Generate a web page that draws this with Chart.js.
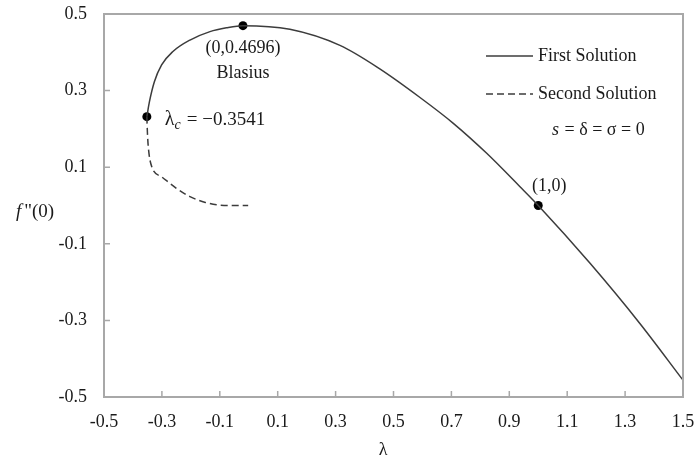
<!DOCTYPE html>
<html>
<head>
<meta charset="utf-8">
<script src="https://cdn.jsdelivr.net/npm/chart.js@4.4.1/dist/chart.umd.min.js"></script>
<style>
html,body{margin:0;padding:0;background:#fff;}
#wrap{width:699px;height:465px;position:relative;}
</style>
</head>
<body>
<div id="wrap"><canvas id="c" width="699" height="465"></canvas></div>
<script>
// ---- data ----
const xTicks = [-0.5, -0.3, -0.1, 0.1, 0.3, 0.5, 0.7, 0.9, 1.1, 1.3, 1.5];
const xTickLabels = ['-0.5', '-0.3', '-0.1', '0.1', '0.3', '0.5', '0.7', '0.9', '1.1', '1.3', '1.5'];
const yTicks = [-0.5, -0.3, -0.1, 0.1, 0.3, 0.5];
const yTickLabels = ['-0.5', '-0.3', '-0.1', '0.1', '0.3', '0.5'];

const firstLambda = [-0.352, -0.343, -0.326, -0.301, -0.262, -0.203, -0.134, -0.077, -0.02, 0.142, 0.315, 0.45, 0.5915, 0.7066, 0.822, 0.937, 1.0, 1.179, 1.351, 1.5];
const firstF      = [0.232, 0.271, 0.323, 0.367, 0.402, 0.432, 0.454, 0.464, 0.4696, 0.460, 0.418, 0.358, 0.282, 0.2146, 0.1363, 0.049, 0.0, -0.151, -0.308, -0.456];

const secondLambda = [-0.352, -0.350, -0.347, -0.335, -0.301, -0.250, -0.203, -0.150, -0.111, -0.060, -0.002];
const secondF      = [0.232, 0.190, 0.153, 0.101, 0.075, 0.045, 0.023, 0.008, 0.002, 0.0, 0.0];

const markLambda = [-0.352, -0.02, 1.0];
const markF      = [0.232, 0.4696, 0.0];

const seriesNames = ['First Solution', 'Second Solution'];

// ---- build ----
const toPts = (xs, ys) => xs.map((x, i) => ({x: x, y: ys[i]}));
const FONT = '"Liberation Serif", "Times New Roman", serif';
const TXT = '#1a1a1a';
const AXIS = '#a8a8a8';
const LINE = '#3c3c3c';

const deco = {
  id: 'deco',
  afterDatasetsDraw(chart) {
    const ctx = chart.ctx, a = chart.chartArea;
    const xs = chart.scales.x, ys = chart.scales.y;
    ctx.save();
    // box
    ctx.strokeStyle = AXIS; ctx.lineWidth = 2;
    ctx.strokeRect(a.left, a.top, a.right - a.left, a.bottom - a.top);
    // inside tick marks
    ctx.lineWidth = 1.5;
    ctx.beginPath();
    xTicks.forEach(v => {
      const p = xs.getPixelForValue(v);
      if (p > a.left + 2 && p < a.right - 2) { ctx.moveTo(p, a.bottom); ctx.lineTo(p, a.bottom - 6); }
    });
    yTicks.forEach(v => {
      const p = ys.getPixelForValue(v);
      if (p > a.top + 2 && p < a.bottom - 2) { ctx.moveTo(a.left, p); ctx.lineTo(a.left + 6, p); }
    });
    ctx.stroke();

    ctx.fillStyle = TXT;
    ctx.textBaseline = 'middle';
    // annotation near Blasius point
    const bx = xs.getPixelForValue(markLambda[1]), by = ys.getPixelForValue(markF[1]);
    ctx.font = '18px ' + FONT; ctx.textAlign = 'center';
    ctx.fillText('(0,0.4696)', bx, by + 23);
    ctx.fillText('Blasius', bx, by + 48);
    // critical point label
    const cx = xs.getPixelForValue(markLambda[0]), cy = ys.getPixelForValue(markF[0]);
    ctx.textAlign = 'left';
    ctx.font = '20px ' + FONT;
    let x0 = cx + 18;
    ctx.fillText('λ', x0, cy + 3);
    x0 += ctx.measureText('λ').width;
    ctx.font = 'italic 14px ' + FONT;
    ctx.fillText('c', x0, cy + 9);
    x0 += ctx.measureText('c').width + 6;
    ctx.font = '19px ' + FONT;
    ctx.fillText('= −0.3541', x0, cy + 3);
    // (1,0)
    const px = xs.getPixelForValue(markLambda[2]), py = ys.getPixelForValue(markF[2]);
    ctx.font = '18px ' + FONT; ctx.textAlign = 'center';
    ctx.fillText('(1,0)', px + 11, py - 19);
    // legend
    ctx.textAlign = 'left';
    ctx.strokeStyle = LINE; ctx.lineWidth = 1.5;
    ctx.beginPath(); ctx.moveTo(486, 56); ctx.lineTo(533, 56); ctx.stroke();
    ctx.setLineDash([7, 4]);
    ctx.beginPath(); ctx.moveTo(486, 94); ctx.lineTo(533, 94); ctx.stroke();
    ctx.setLineDash([]);
    ctx.font = '18px ' + FONT;
    ctx.fillText(seriesNames[0], 538, 56);
    ctx.fillText(seriesNames[1], 538, 94);
    ctx.font = 'italic 18px ' + FONT;
    ctx.fillText('s', 552, 130);
    ctx.font = '18px ' + FONT;
    ctx.fillText(' = δ = σ = 0', 560, 130);
    // axis titles
    ctx.font = 'italic 19px ' + FONT;
    ctx.fillText('f', 16, 212);
    const fw = ctx.measureText('f').width;
    ctx.font = '19px ' + FONT;
    ctx.fillText('"(0)', 16 + fw + 3, 212);
    ctx.textAlign = 'center';
    ctx.font = '18px ' + FONT;
    ctx.fillText('λ', 383, 450);
    ctx.restore();
  }
};

new Chart(document.getElementById('c'), {
  type: 'scatter',
  data: {
    datasets: [
      { label: seriesNames[0], data: toPts(firstLambda, firstF), showLine: true, borderColor: LINE, borderWidth: 1.5, pointRadius: 0, cubicInterpolationMode: 'monotone', fill: false },
      { label: seriesNames[1], data: toPts(secondLambda, secondF), showLine: true, borderColor: LINE, borderWidth: 1.5, borderDash: [7, 4], pointRadius: 0, cubicInterpolationMode: 'monotone', fill: false },
      { label: 'marks', data: toPts(markLambda, markF), showLine: false, pointRadius: 4.5, pointBackgroundColor: '#000', pointBorderColor: '#000', pointBorderWidth: 0 }
    ]
  },
  options: {
    responsive: false,
    animation: false,
    layout: { padding: { top: 14, right: 16, left: 0, bottom: 0 } },
    plugins: { legend: { display: false }, tooltip: { enabled: false } },
    scales: {
      x: {
        type: 'linear', min: -0.5, max: 1.5,
        afterBuildTicks: s => { s.ticks = xTicks.map(v => ({value: v})); },
        afterFit: s => { s.height = 68; s.paddingLeft = 0; s.paddingRight = 0; },
        grid: { display: false, drawTicks: false },
        border: { display: false },
        ticks: { padding: 14, color: TXT, font: { family: FONT, size: 18 }, maxRotation: 0, autoSkip: false,
          callback: (v) => { const i = xTicks.findIndex(t => Math.abs(t - v) < 1e-9); return i >= 0 ? xTickLabels[i] : ''; } }
      },
      y: {
        type: 'linear', min: -0.5, max: 0.5,
        afterBuildTicks: s => { s.ticks = yTicks.map(v => ({value: v})); },
        afterFit: s => { s.width = 104; s.paddingTop = 0; s.paddingBottom = 0; },
        grid: { display: false, drawTicks: false },
        border: { display: false },
        ticks: { padding: 17, color: TXT, font: { family: FONT, size: 18 }, autoSkip: false,
          callback: (v) => { const i = yTicks.findIndex(t => Math.abs(t - v) < 1e-9); return i >= 0 ? yTickLabels[i] : ''; } }
      }
    }
  },
  plugins: [deco]
});
</script>
</body>
</html>
